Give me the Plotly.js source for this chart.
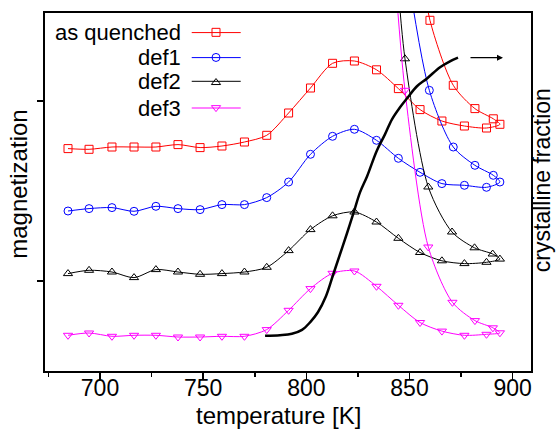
<!DOCTYPE html>
<html><head><meta charset="utf-8">
<script src="https://cdn.plot.ly/plotly-3.0.1.min.js"></script>
<style>html,body{margin:0;padding:0;background:#fff}#chart{width:556px;height:430px}</style>
</head><body><div id="chart"></div>
<script>
// temperatures of the symbols on the heating branch [K]
const heatT = [684.5, 694.7, 705.8, 716.5, 727.1, 737.8, 748.5, 759.1, 770.0, 780.8, 791.4, 802.0, 812.7, 823.3, 834.0, 844.6, 855.1, 865.7, 876.6, 887.3, 893.8];

// magnetization (arb. units) – heating branch
const aqHeatM  = [222.4, 221.7, 224.0, 224.0, 224.0, 226.4, 223.4, 225.0, 229.0, 235.7, 258.0, 283.0, 307.7, 310.0, 301.2, 282.4, 261.4, 250.0, 245.0, 243.0, 246.7];
const d1HeatM  = [160.0, 162.4, 163.4, 159.7, 164.7, 162.4, 161.4, 166.4, 166.4, 173.4, 189.0, 216.7, 234.7, 241.7, 230.7, 212.7, 198.7, 187.4, 185.7, 183.7, 189.0];
const d2HeatM  = [97.4, 100.7, 99.0, 93.4, 101.4, 99.0, 96.7, 97.4, 99.0, 103.7, 120.4, 141.4, 155.2, 159.0, 149.0, 132.7, 118.5, 110.2, 107.4, 108.7, 111.9];
const d3HeatM  = [35.7, 38.0, 34.7, 35.7, 35.7, 34.0, 34.0, 34.7, 34.7, 41.4, 60.7, 82.4, 97.7, 100.0, 84.7, 65.7, 48.5, 39.9, 35.7, 36.7, 38.2];

// cooling branch
const aqCoolT = [890.6, 881.7, 871.2, 859.9, 856.5];
const aqCoolM = [252.2, 262.4, 285.7, 350.7, 395.7];
const d1CoolT = [890.6, 881.7, 871.2, 859.6, 847.8];
const d1CoolM = [195.7, 205.7, 224.0, 280.7, 415.7];
const d2CoolT = [890.3, 881.5, 870.6, 859.1, 847.8, 843.9];
const d2CoolM = [117.0, 123.2, 139.0, 184.0, 312.2, 400.7];
const d3CoolT = [890.4, 881.7, 870.8, 859.1, 847.8, 843.0];
const d3CoolM = [43.2, 50.4, 68.7, 124.0, 280.7, 395.7];

// crystalline fraction (right axis)
const crystT = [780.0, 787.2, 793.0, 797.9, 801.8, 805.6, 809.5, 812.9, 816.3, 819.7, 823.1, 826.0, 829.4, 834.2, 838.1, 841.5, 845.4, 848.8, 853.6, 858.5, 864.8, 869.6, 873.5];
const crystF = [0.002, 0.004, 0.009, 0.023, 0.05, 0.086, 0.143, 0.218, 0.293, 0.368, 0.446, 0.514, 0.571, 0.664, 0.721, 0.775, 0.818, 0.85, 0.893, 0.921, 0.961, 0.982, 0.995];

const seriesNames = ['as quenched', 'def1', 'def2', 'def3'];
const xTickVals = [700, 750, 800, 850, 900];
const xMinorVals = [675, 725, 775, 825, 875];
const yTickVals = [90, 270];

const FONT = 'Liberation Sans, Arial, Helvetica, sans-serif';
const colors = ['#ff0000', '#0000ff', '#000000', '#ff00ff'];
const symbols = ['square-open', 'circle-open', 'triangle-up-open', 'triangle-down-open'];
const sizes = [8, 8, 8, 8];
const heats = [aqHeatM, d1HeatM, d2HeatM, d3HeatM];
const coolsT = [aqCoolT, d1CoolT, d2CoolT, d3CoolT];
const coolsM = [aqCoolM, d1CoolM, d2CoolM, d3CoolM];

const traces = [];
for (let i = 0; i < 4; i++) {
  traces.push({
    x: heatT.concat(coolsT[i]), y: heats[i].concat(coolsM[i]),
    type: 'scatter', mode: 'lines+markers', showlegend: false,
    line: {color: colors[i], width: 1, shape: 'spline', smoothing: 0.8},
    marker: {symbol: symbols[i], size: sizes[i], color: colors[i], line: {width: 1, color: colors[i]}}
  });
}
traces.push({
  x: crystT, y: crystF, yaxis: 'y2', type: 'scatter', mode: 'lines', showlegend: false,
  line: {color: '#000', width: 2.5, shape: 'spline'}
});
// legend entries (symbols; the labels are placed to their left, the sample line is a shape)
for (let i = 0; i < 4; i++) {
  traces.push({
    x: [null], y: [null], type: 'scatter', mode: 'markers', name: ' ',
    marker: {symbol: symbols[i], size: sizes[i], color: colors[i], line: {width: 1, color: colors[i]}}
  });
}

const legendRowsY = [0.9453, 0.8754, 0.8092, 0.7346];
const annotations = seriesNames.map((n, i) => ({
  text: n, xref: 'paper', yref: 'paper', x: 0.2833, y: legendRowsY[i],
  xanchor: 'right', yanchor: 'middle', showarrow: false,
  font: {family: FONT, size: 22, color: '#000'}
}));
annotations.push({text: 'magnetization', xref: 'paper', yref: 'paper', x: -0.0535, y: 0.523,
  xanchor: 'center', yanchor: 'middle', textangle: -90, showarrow: false,
  font: {family: FONT, size: 24, color: '#000'}});
annotations.push({text: 'crystalline fraction', xref: 'paper', yref: 'paper', x: 1.0226, y: 0.533,
  xanchor: 'center', yanchor: 'middle', textangle: -90, showarrow: false,
  font: {family: FONT, size: 23, color: '#000'}});
annotations.push({text: 'temperature [K]', xref: 'paper', yref: 'paper', x: 0.48, y: -0.1237,
  xanchor: 'center', yanchor: 'middle', showarrow: false,
  font: {family: FONT, size: 24, color: '#000'}});
annotations.push({text: '', xref: 'x', yref: 'y2', x: 895.3, y: 0.995, ax: -34, ay: 0,
  showarrow: true, arrowhead: 2, arrowsize: 1, arrowwidth: 1.2, arrowcolor: '#000'});

const shapes = legendRowsY.map((yy, i) => ({
  type: 'line', xref: 'paper', yref: 'paper', x0: 0.3019, x1: 0.4027, y0: yy, y1: yy,
  line: {color: colors[i], width: 1}
}));

const layout = {
  width: 556, height: 430,
  margin: {l: 45, r: 25, t: 13, b: 59},
  paper_bgcolor: '#fff', plot_bgcolor: '#fff',
  font: {family: FONT, color: '#000'},
  showlegend: true,
  legend: {x: 0.3107, xanchor: 'left', y: 0.995, yanchor: 'top', bgcolor: 'rgba(0,0,0,0)',
    borderwidth: 0, font: {family: FONT, size: 17}},
  xaxis: {range: [673.35, 908.87], tickvals: xTickVals, ticks: 'outside', ticklen: 7, tickwidth: 1.5,
    tickcolor: '#000', showline: true, linewidth: 2, linecolor: '#000', mirror: true,
    ticklabelstandoff: -12,
    showgrid: false, zeroline: false, tickfont: {family: FONT, size: 23, color: '#000'},
    minor: {tickvals: xMinorVals, ticks: 'outside', ticklen: 4, tickwidth: 1.5, tickcolor: '#000', showgrid: false}},
  yaxis: {range: [0, 358], tickvals: yTickVals, ticks: 'outside', ticklen: 6, tickwidth: 1.5,
    tickcolor: '#000', showticklabels: false, showline: true, linewidth: 2, linecolor: '#000',
    mirror: true, showgrid: false, zeroline: false},
  yaxis2: {overlaying: 'y', side: 'right', range: [-0.1239, 1.1546], showticklabels: false,
    ticks: '', showgrid: false, zeroline: false, showline: false},
  shapes: shapes,
  annotations: annotations
};
Plotly.newPlot('chart', traces, layout, {staticPlot: true});
</script></body></html>
